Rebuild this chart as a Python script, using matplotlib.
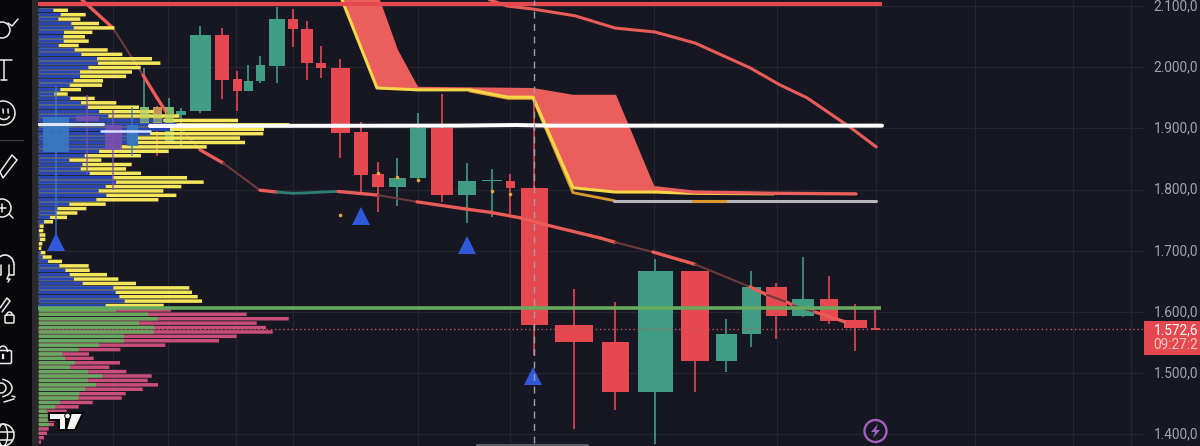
import numpy as np
import matplotlib
matplotlib.use("Agg")
import matplotlib.pyplot as plt
from matplotlib.patches import Circle, Polygon, Rectangle, Arc, FancyBboxPatch

plt.rcParams['font.family'] = ['Roboto', 'DejaVu Sans']

# ---------- data ----------
price_ticks = [2100, 2000, 1900, 1800, 1700, 1600, 1500, 1400]
tick_labels = ["2.100,0", "2.000,0", "1.900,0", "1.800,0", "1.700,0", "1.600,0", "1.500,0", "1.400,0"]
last_price = 1572.6
last_label = "1.572,6"
countdown = "09:27:2"

candle_x = [144, 157, 169, 181, 200, 222, 237, 248, 260, 277, 293, 307, 321, 340, 361, 378, 397, 418, 442, 467,
            492, 510, 534, 574, 615, 655, 695, 726, 751, 776, 803, 829, 855, 875]
candle_w = [9, 9, 9, 10, 21, 14, 9, 9, 9, 16, 10, 12, 10, 19, 14, 12, 17, 16, 22, 18,
            20, 9, 27, 38, 27, 35, 28, 21, 19, 21, 22, 18, 23, 9]
c_open = [1909, 1935, 1875, 1922, 1928, 2053, 1981, 1961, 1977, 2002, 2079, 2062, 2007, 1999, 1894, 1825, 1804, 1819, 1901, 1791,
          1814, 1814, 1803, 1579, 1551, 1469, 1667, 1520, 1564, 1641, 1593, 1621, 1587, 1574]
c_close = [1935, 1909, 1935, 1928, 2053, 1979, 1961, 1977, 2004, 2079, 2062, 2007, 1999, 1892, 1824, 1804, 1819, 1901, 1791, 1814,
           1815, 1803, 1579, 1551, 1469, 1667, 1520, 1564, 1641, 1593, 1621, 1585, 1574, 1571]
c_high = [1998, 1937, 1950, 1933, 2067, 2064, 1994, 2004, 2018, 2098, 2095, 2075, 2035, 2013, 1910, 1845, 1852, 1925, 1956, 1843,
          1834, 1825, 1951, 1638, 1616, 1687, 1667, 1589, 1667, 1647, 1690, 1659, 1613, 1603]
c_low = [1909, 1855, 1881, 1871, 1925, 1948, 1928, 1961, 1974, 1974, 2033, 1979, 1982, 1852, 1796, 1763, 1773, 1814, 1780, 1745,
         1755, 1760, 1530, 1409, 1440, 1384, 1469, 1502, 1543, 1556, 1592, 1580, 1536, 1571]

ghost_x = [56, 87, 113, 132]
ghost_w = [26, 23, 17, 11]
ghost_top = [1919, 1920, 1905, 1905]
ghost_bot = [1861, 1912, 1865, 1872]
ghost_high = [1970, 1955, 1930, 1935]
ghost_low = [1715, 1825, 1800, 1855]
ghost_col = ["#3a7bc4", "#7d4fb0", "#7d4fb0", "#3a7bc4"]

up_vol = [44, 66, 59, 98, 105, 76, 74, 75, 60, 108, 128, 175, 178, 149, 124, 124, 104, 93, 65, 47, 95, 127, 148, 181, 209,
          374, 414, 394, 334, 294, 298, 244, 181, 138, 92, 131, 126, 153, 221, 232, 201, 180, 203, 173, 92, 56, 52, 34, 16,
          3, 1, 3, 4, 0, 0, 6, 12, 28, 62, 80, 93, 106, 132, 224, 231, 242, 258, 201]
up_total = [88, 141, 125, 181, 227, 161, 139, 150, 120, 207, 251, 340, 365, 306, 280, 262, 193, 190, 127, 87, 168, 233, 301, 346, 422,
            598, 752, 676, 674, 604, 619, 504, 390, 307, 188, 279, 262, 307, 445, 495, 428, 374, 413, 359, 201, 143, 116, 85, 43,
            15, 14, 20, 20, 11, 8, 20, 39, 70, 150, 153, 205, 239, 292, 452, 460, 477, 490, 375]
down_vol = [231, 329, 357, 301, 346, 344, 256, 256, 181, 120, 71, 79, 108, 94, 148, 191, 148, 172, 139, 122, 119, 64, 49, 24, 27, 27, 32, 2, 2, 0, 0]
down_total = [397, 624, 750, 654, 682, 702, 594, 541, 380, 245, 151, 165, 244, 212, 263, 339, 327, 358, 312, 261, 249, 162, 120, 84, 49, 49, 46, 30, 25, 16, 7]
first_row_price = 2093.0
row_step = 7.2

ma_x = [82, 113, 143, 157, 167, 200, 223, 260, 277, 293, 305, 322, 338, 378, 417, 467, 490, 520, 547, 600, 615, 653, 695, 750, 767, 787, 793, 815, 845]
ma_price = [2110, 2064, 1987, 1950, 1925, 1865, 1843.5, 1799, 1796, 1794, 1794.5, 1796, 1797, 1791, 1780, 1768, 1763, 1754, 1742, 1721, 1714, 1698, 1678, 1641, 1628, 1616, 1611, 1600, 1584]
ma_state = ["r", "b", "r", "r", "b", "r", "b", "r", "t", "t", "t", "t", "r", "b", "r", "r", "r", "r", "r", "r", "b", "r", "b", "r", "b", "r", "b", "r"]

ma2_x = [490, 507, 533, 575, 615, 655, 695, 750, 780, 807, 850, 876]
ma2_price = [2110, 2100, 2095, 2084, 2064, 2057.5, 2039.5, 1999, 1971, 1950, 1902, 1870]

top_x = [380, 398, 418, 533, 573, 616, 655, 693, 773, 856]
top_price = [2110, 2028, 1968, 1966, 1955, 1955, 1803, 1796, 1794, 1793]
bot_x = [342, 377, 418, 470, 508, 533, 573, 615, 655, 690, 773]
bot_price = [2110, 1966, 1963, 1963, 1951, 1951, 1803, 1796, 1796, 1794, 1793]
lead_x = [470, 508, 533, 573, 614]
lead_price = [1961, 1949, 1949, 1795, 1782]
flat_x = [614, 876]
flat_price = [1782, 1782]
flat_acc_x = [693, 725]
flat_acc_price = [1782, 1782]

resist_top = 2102.5
white_left_x = [38, 103]
white_left_price = [1907, 1907]
white_mid_x = [101, 150]
white_mid_price = [1895, 1895]
white_x = [150, 456, 516, 550, 882]
white_price = [1904, 1904.5, 1905.5, 1904.5, 1904.5]
green_level = 1606.5

tri_x = [56, 361, 467, 533]
tri_price = [1714, 1757, 1709, 1496]
dot_x = [340, 378, 397, 418, 492, 510]
dot_price = [1759, 1827, 1820, 1816, 1798, 1793]

cursor_x = 533.5
grid_x = [113, 168, 236, 293, 418, 510, 654, 777, 876, 975, 1073, 1131]

# ---------- colours ----------
BG, RED, GRN = "#161722", "#e5484f", "#419c84"
CLOUD, YEL, ORG = "#ea5f5b", "#f7d648", "#dd9a2c"
BLUE, VYEL, VGRN, VPNK = "#2846b6", "#f6e65c", "#66a95f", "#c94f7a"

# ---------- axes ----------
fig = plt.figure(figsize=(12, 4.46), dpi=100, facecolor=BG)
ax = fig.add_axes([0, 0, 1, 1])
ax.set_facecolor(BG)
ax.set_xlim(0, 1200)
ax.set_ylim(2100 - 440 * 1.634, 2100 + 6 * 1.634)
for s in ax.spines.values():
    s.set_visible(False)
ax.set_xticks([]); ax.set_yticks([])

ax.hlines(price_ticks, 38, 1144, color="#252631", lw=0.9, zorder=1)
ax.vlines(grid_x, *ax.get_ylim(), color="#252631", lw=0.9, zorder=1)

# candles
for x, w, o, c, h, l in zip(candle_x, candle_w, c_open, c_close, c_high, c_low):
    col = GRN if c > o else RED
    ax.vlines(x, l, h, color=col, lw=1.2, zorder=2)
    ax.bar(x, abs(c - o) or 1.5, w, bottom=min(o, c), color=col, lw=0, zorder=2)

# cloud
ax.fill(list(top_x) + list(bot_x[::-1]), list(top_price) + list(bot_price[::-1]), color=CLOUD, lw=0, zorder=3)
ax.plot(bot_x, bot_price, color=YEL, lw=2.2, zorder=3.1, solid_joinstyle="round")
ax.plot(top_x[6:], top_price[6:], color=CLOUD, lw=2.4, zorder=3.2, solid_capstyle="round")
ax.plot(lead_x, lead_price, color=ORG, lw=2, zorder=3)
ax.plot(flat_x, flat_price, color="#b6b6ba", lw=2.2, zorder=3, solid_capstyle="round")
ax.plot(flat_acc_x, flat_acc_price, color=ORG, lw=2.2, zorder=3.05)

# moving averages
for i, st in enumerate(ma_state):
    col, lw = {"r": ("#e95c58", 2.4), "b": ("#6d3a3c", 1.5), "t": ("#2f7f73", 2.0)}[st]
    ax.plot(ma_x[i:i + 2], ma_price[i:i + 2], color=col, lw=lw, zorder=3.4, solid_capstyle="round")
ax.plot(ma2_x, ma2_price, color="#e95c58", lw=2.2, zorder=3.4)

# volume profile
n_up = len(up_vol)
rows = first_row_price - row_step * np.arange(n_up + len(down_vol))
scale = 1 / 3
h = 5.7
groups = [
    ax.barh(rows[:n_up], np.array(up_total) * scale, h, left=38.7, color=VYEL, lw=0, zorder=4),
    ax.barh(rows[:n_up], np.array(up_vol) * scale, h, left=38.7, color=BLUE, lw=0, zorder=4.1),
    ax.barh(rows[n_up:], np.array(down_total) * scale, h, left=38.7, color=VPNK, lw=0, zorder=4),
    ax.barh(rows[n_up:], np.array(down_vol) * scale, h, left=38.7, color=VGRN, lw=0, zorder=4.1),
]
for g in groups:
    for p in g.patches:
        p.set_snap(False)

# candles showing through the profile
for x, w, t, b, hi, lo, col in zip(ghost_x, ghost_w, ghost_top, ghost_bot, ghost_high, ghost_low, ghost_col):
    ax.vlines(x, lo, hi, color=col, lw=1.1, alpha=0.85, zorder=4.3)
    ax.bar(x, t - b, w, bottom=b, color=col, lw=0, alpha=0.88, zorder=4.3)
for i in range(3):
    ax.bar(candle_x[i], 26, candle_w[i], bottom=1909, color="#a9d05c", lw=0, alpha=0.55, zorder=4.4)

# levels
ax.plot([38, 882], [resist_top] * 2, color=RED, lw=3, zorder=5, solid_capstyle="butt")
ax.plot(white_left_x, white_left_price, color="#dfe6ff", lw=2.2, zorder=5, solid_capstyle="round")
ax.plot(white_mid_x, white_mid_price, color="#d9e4ff", lw=1.8, zorder=5, solid_capstyle="round")
ax.plot(white_x, white_price, color="#ffffff", lw=2.9, zorder=5, solid_capstyle="round")
ax.plot([38, 881], [green_level] * 2, color=VGRN, lw=2.6, zorder=5, solid_capstyle="butt")
ax.hlines(last_price, 37, 1145, color="#c2555f", lw=1, linestyles=(0, (1, 2)), zorder=5)
ax.plot([cursor_x, cursor_x], [1386, 2110], color="#a0a0a6", lw=1, ls=(0, (5, 4)), zorder=5.5)

# markers
ax.plot(tri_x, tri_price, ls="", marker="^", ms=13, color="#3058d8", mew=0, zorder=5.2)
ax.plot(dot_x, dot_price, ls="", marker="o", ms=2.6, color="#e3a83a", mew=0, zorder=5.2)

# price scale text
for p, lab in zip(price_ticks, tick_labels):
    ax.text(1153.5, p, lab, color="#a3a3ab", fontsize=9.8, va="center", ha="left", zorder=7)

# ---------- chrome, in pixel units ----------
ui = fig.add_axes([0, 0, 1, 1], facecolor="none")
ui.set_xlim(0, 1200); ui.set_ylim(446, 0); ui.axis("off")
ui.add_patch(Rectangle((0, 0), 32, 446, color="#08080b", lw=0, zorder=1))
ui.add_patch(Rectangle((32, 0), 5.5, 446, color="#2a2a2d", lw=0, zorder=1))
ui.add_patch(Rectangle((1144, 320.7), 56, 34, color=RED, lw=0, zorder=1))
ui.text(1153.5, 330, last_label, color="#ffffff", fontsize=9.8, va="center", ha="left")
ui.text(1153.5, 345, countdown, color="#f3c6c8", fontsize=9.8, va="center", ha="left")
ui.plot([477, 588], [445, 445], color="#6a6a70", lw=1.2)

ic = dict(color="#ececec", lw=1.1, solid_capstyle="round")
def circ(x, y, r):
    ui.add_patch(Circle((x, y), r, fill=False, ec="#ececec", lw=1.1, zorder=3))
circ(2, 30, 8); ui.plot([8, 12, 18], [23, 26, 19], **ic)
ui.plot([0, 12], [60, 60], **ic); ui.plot([4, 4], [60, 80], **ic); ui.plot([1, 7], [80, 80], **ic)
circ(3, 113, 12); ui.plot([3, 3.3], [109, 113], **ic); ui.plot([8, 8.2], [109, 113], **ic)
ui.add_patch(Arc((4, 115), 11, 9, theta1=10, theta2=170, ec="#ececec", lw=1.1))
ui.plot([0, 23], [140, 140], color="#3a3a3d", lw=0.9)
ui.add_patch(Polygon([[0, 172], [12, 155], [17, 160], [3, 178]], fill=False, ec="#ececec", lw=1.1))
circ(2, 208, 9); ui.plot([9, 13], [214, 218], **ic); ui.plot([-2, 6], [208, 208], **ic); ui.plot([2, 2], [204, 212], **ic)
ui.add_patch(Arc((5, 265), 18, 20, theta1=180, theta2=360, ec="#ececec", lw=1.2))
ui.plot([-4, -4, 1, 1], [265, 275, 275, 265], **ic); ui.plot([14, 14, 9, 9], [265, 275, 275, 265], **ic)
ui.plot([9, 7, 10, 8], [274, 279, 279, 282], **ic)
ui.plot([0, 7, 10, 2], [308, 298, 301, 312], **ic)
ui.add_patch(FancyBboxPatch((6, 316), 7, 6, boxstyle="round,pad=1", fill=False, ec="#ececec", lw=1.1))
ui.add_patch(Arc((9.5, 316), 6, 8, theta1=180, theta2=360, ec="#ececec", lw=1.1))
ui.add_patch(FancyBboxPatch((-4, 352), 14, 10, boxstyle="round,pad=1.5", fill=False, ec="#ececec", lw=1.1))
ui.add_patch(Arc((3, 352), 9, 12, theta1=180, theta2=360, ec="#ececec", lw=1.1))
ui.plot([3, 3], [355, 358], color="#ececec", lw=1.6)
ui.add_patch(Arc((-1, 388), 26, 18, theta1=-70, theta2=70, ec="#ececec", lw=1.1))
circ(1, 388, 5); ui.plot([4, 14], [402, 399], **ic); ui.plot([12, 15], [396, 397], **ic)
circ(3, 435, 11); ui.add_patch(Arc((3, 435), 9, 22, ec="#ececec", lw=1)); ui.plot([-8, 14], [432, 432], **ic); ui.plot([-6, 12], [440, 440], **ic)

# watermark logo
for pts in ([[49, 413], [66, 413], [66, 430], [59, 430], [59, 420], [49, 420]],
            [[71, 413], [83, 413], [75, 430], [66, 430]]):
    ui.add_patch(Polygon(pts, closed=True, fc="#f4f4f4", ec="#050505", lw=1.4, zorder=6))
ui.add_patch(Circle((67.5, 416), 2.8, fc="#f4f4f4", ec="#050505", lw=0.7, zorder=7))

# lightning badge
ui.add_patch(Circle((875.5, 431), 11, fill=False, ec="#a45fc0", lw=1.7))
ui.add_patch(Polygon([[878, 424], [871, 432], [875, 432], [873, 438], [880, 430], [876, 430]], fc="#a45fc0", ec="none"))

fig.savefig("out.png", dpi=100, facecolor=BG)
